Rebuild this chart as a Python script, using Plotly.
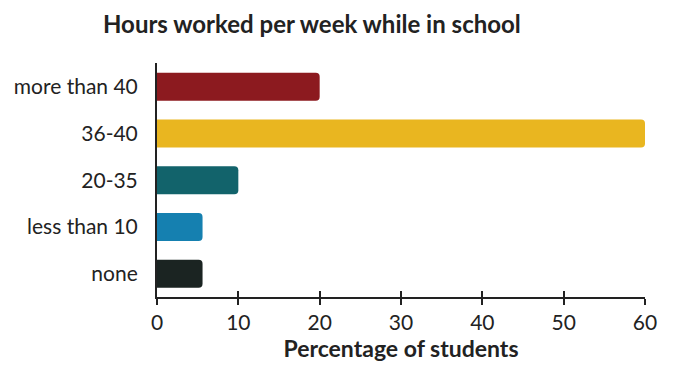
import plotly.graph_objects as go

categories = ["more than 40", "36-40", "20-35", "less than 10", "none"]
values = [20, 60, 10, 5.6, 5.6]
colors = ["#8C1A1F", "#E9B620", "#12636B", "#1580B0", "#1B2422"]
x_ticks = [0, 10, 20, 30, 40, 50, 60]

fig = go.Figure()
fig.add_trace(go.Bar(
    x=values, y=categories, orientation="h",
    marker=dict(color=colors, line=dict(width=0)),
))
# transparent copy on an overlaid axis that only carries inner tick marks
fig.add_trace(go.Bar(
    x=values, y=categories, orientation="h", xaxis="x2",
    marker=dict(color="rgba(0,0,0,0)", line=dict(width=0)),
    hoverinfo="skip", showlegend=False,
))

font_family = "Lato"
fig.update_layout(
    width=674, height=366,
    margin=dict(l=157, r=29, t=63, b=63),
    plot_bgcolor="white", paper_bgcolor="white",
    bargap=0.4, barcornerradius=4, barmode="overlay",
    showlegend=False,
    font=dict(family=font_family, color="#222222", size=21),
    title=dict(text="<b>Hours worked per week while in school</b>",
               x=103/674, xanchor="left", xref="container",
               y=1 - 25/366, yanchor="middle", yref="container",
               font=dict(size=24, family=font_family, color="#222222")),
    xaxis2=dict(overlaying="x", anchor="y", side="bottom", range=[0, 60],
                tickvals=x_ticks, ticks="inside", ticklen=6,
                tickcolor="#222222", tickwidth=1.5, showticklabels=False,
                showgrid=False, zeroline=False, showline=False),
)
fig.layout.xaxis.update(
    range=[0, 60], tickvals=x_ticks, showgrid=False, zeroline=False,
    showline=True, linecolor="#222222", linewidth=1.5,
    ticks="outside", ticklen=6, tickcolor="#222222", tickwidth=1.5,
    tickfont=dict(size=21, color="#222222"),
    title=dict(text="<b>Percentage of students</b>", standoff=4,
               font=dict(size=23, color="#222222")),
)
fig.layout.yaxis.update(
    categoryorder="array", categoryarray=categories[::-1],
    range=[-0.5, 4.51], showgrid=False, zeroline=False,
    showline=True, linecolor="#222222", linewidth=2,
    ticks="", ticklabelstandoff=13,
    tickfont=dict(size=21, color="#222222"),
)

fig.write_html("out.html", config={"displayModeBar": False},
               post_script="document.body.style.margin='0';")
